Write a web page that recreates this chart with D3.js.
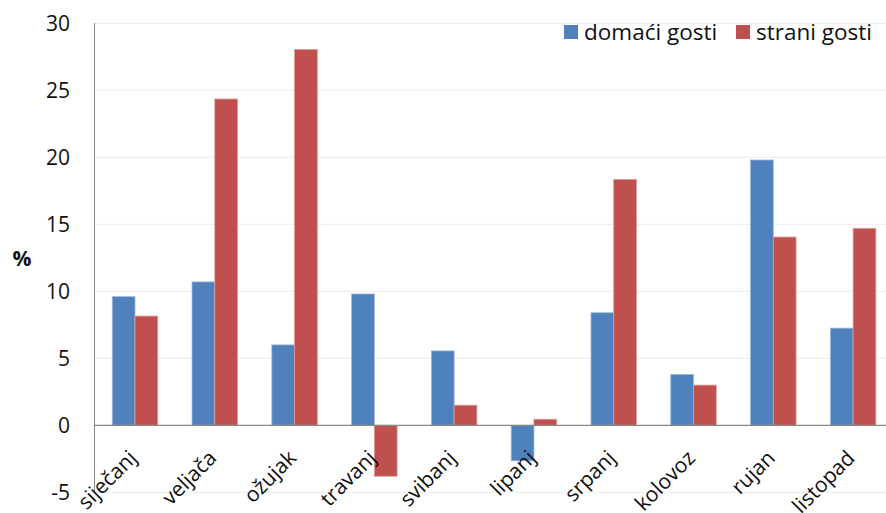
<!DOCTYPE html>
<html><head><meta charset="utf-8">
<script src="https://cdn.jsdelivr.net/npm/d3@7"></script>
<style>
html,body{margin:0;padding:0;background:#fff;}
svg{display:block;font-family:"Open Sans",sans-serif;}
</style></head>
<body><svg id="c" width="886" height="513"></svg>
<script>
const categories = ["siječanj","veljača","ožujak","travanj","svibanj","lipanj","srpanj","kolovoz","rujan","listopad"];
const domaci = [9.6, 10.7, 6.0, 9.8, 5.55, -2.65, 8.4, 3.8, 19.8, 7.25];
const strani = [8.15, 24.35, 28.05, -3.8, 1.5, 0.45, 18.35, 3.0, 14.05, 14.7];
const seriesNames = ["domaći gosti","strani gosti"];
const colors = ["#4f81bd","#c0504d"];
const yTicks = [-5,0,5,10,15,20,25,30];

const svg = d3.select("#c");
const x = d3.scaleBand().domain(categories).range([95.1, 893]).paddingInner(0.43).paddingOuter(0.215);
const x1 = d3.scaleBand().domain([0,1]).range([0, x.bandwidth()]);
const y = d3.scaleLinear().domain([-5,30]).range([492.3, 23.3]);

// gridlines
svg.append("g").selectAll("line").data(yTicks.filter(t=>t!==0)).join("line")
  .attr("x1",95).attr("x2",893).attr("y1",d=>y(d)).attr("y2",d=>y(d))
  .attr("stroke","#ececec").attr("stroke-width",1);

// bars
const data = categories.map((c,i)=>({c, v:[domaci[i], strani[i]]}));
const g = svg.append("g");
data.forEach(d=>{
  d.v.forEach((v,s)=>{
    g.append("rect")
      .attr("x", x(d.c)+x1(s))
      .attr("width", x1.bandwidth())
      .attr("y", y(Math.max(0,v)))
      .attr("height", Math.abs(y(v)-y(0)))
      .attr("fill", colors[s])
      .attr("stroke", s===0 ? "#9db7db" : "#dc9a98")
      .attr("stroke-width", 0.8);
  });
});

// axes lines
svg.append("line").attr("x1",94.5).attr("x2",94.5).attr("y1",23).attr("y2",492.5).attr("stroke","#888");
svg.append("line").attr("x1",94.5).attr("x2",893).attr("y1",y(0)).attr("y2",y(0)).attr("stroke","#888").attr("stroke-width",1.3);

// y tick labels
svg.append("g").selectAll("text").data(yTicks).join("text")
  .attr("x",70).attr("y",d=>y(d)).attr("dy","0.35em")
  .attr("text-anchor","end").attr("font-size",21).attr("fill","#111")
  .text(d=>d);

// y title
svg.append("text").attr("x",22).attr("y",259).attr("dy","0.35em").attr("text-anchor","middle")
  .attr("font-size",21).attr("font-weight","bold").attr("fill","#111").text("%");

// x labels
svg.append("g").selectAll("text").data(categories).join("text")
  .attr("transform",d=>`translate(${x(d)+x.bandwidth()/2+3},${y(0)+34}) rotate(-45)`)
  .attr("text-anchor","end").attr("font-size",21).attr("fill","#111")
  .text(d=>d);

// legend
const legX = [564, 736];
seriesNames.forEach((n,i)=>{
  svg.append("rect").attr("x",legX[i]).attr("y",25).attr("width",14).attr("height",14).attr("fill",colors[i]);
  svg.append("text").attr("x",legX[i]+20).attr("y",32).attr("dy","0.35em").attr("font-size",22.5).attr("fill","#111").text(n);
});
</script></body></html>
